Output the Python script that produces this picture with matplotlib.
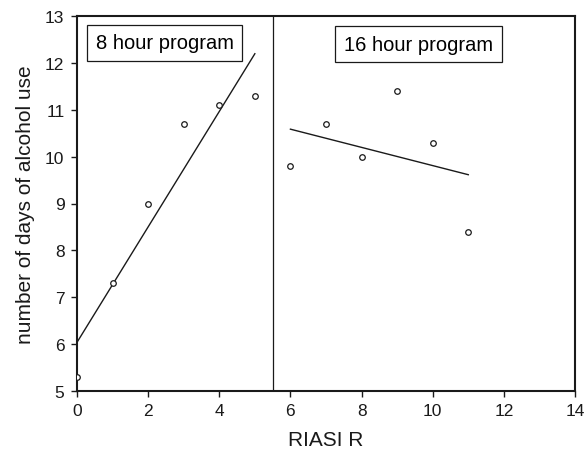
import numpy as np
import matplotlib
matplotlib.use("Agg")
import matplotlib.pyplot as plt

plt.rcParams['font.family'] = ['Liberation Sans', 'DejaVu Sans']

x8 = [0, 1, 2, 3, 4, 5]
y8 = [5.3, 7.3, 9.0, 10.7, 11.1, 11.3]
x16 = [6, 7, 8, 9, 10, 11]
y16 = [9.8, 10.7, 10.0, 11.4, 10.3, 8.4]
divider_x = 5.5
labels = ["8 hour program", "16 hour program"]

fig = plt.figure(figsize=(5.84, 4.52), dpi=100)
ax = fig.add_axes([77/584, 1 - 392/452, (575-77)/584, (392-17)/452])

col = '#1a1a1a'
for xs, ys in [(x8, y8), (x16, y16)]:
    xs_a = np.array(xs, float); ys_a = np.array(ys, float)
    b, a = np.polyfit(xs_a, ys_a, 1)
    xl = np.array([xs_a.min(), xs_a.max()])
    ax.plot(xl, a + b * xl, color=col, lw=1.0, zorder=2)
    ax.plot(xs_a, ys_a, 'o', mfc='white', mec=col, mew=0.9, ms=4, zorder=3)

ax.axvline(divider_x, color=col, lw=0.9)

ax.text(2.47, 12.43, labels[0], ha='center', va='center', fontsize=14.5,
        bbox=dict(boxstyle='square,pad=0.42', fc='white', ec=col, lw=0.9))
ax.text(9.6, 12.40, labels[1], ha='center', va='center', fontsize=14.5,
        bbox=dict(boxstyle='square,pad=0.42', fc='white', ec=col, lw=0.9))

ax.set_xlim(0, 14)
ax.set_ylim(5, 13)
ax.set_xticks(range(0, 15, 2))
ax.set_yticks(range(5, 14))
ax.tick_params(direction='out', length=4.5, width=1, labelsize=12.5, colors=col, pad=4.5)
for s in ax.spines.values():
    s.set_linewidth(1.5)
    s.set_color(col)
ax.set_xlabel("RIASI R", fontsize=15, color=col, labelpad=8)
ax.set_ylabel("number of days of alcohol use", fontsize=15, color=col, labelpad=7)

fig.savefig("out.png", dpi=100)
